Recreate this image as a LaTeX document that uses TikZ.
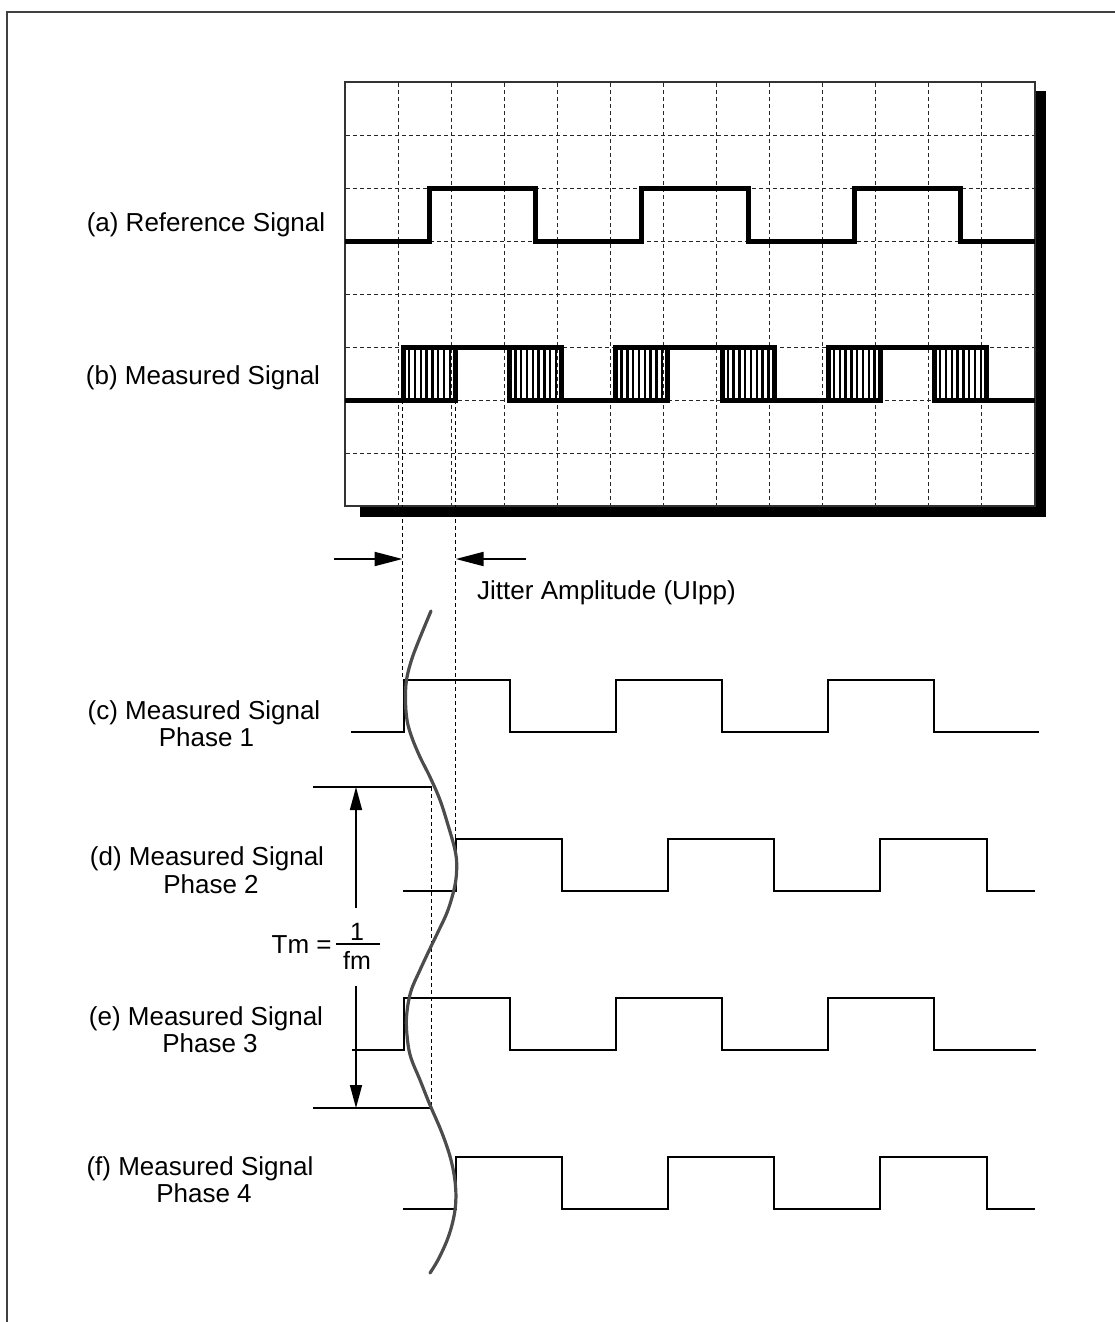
\documentclass[tikz,border=0pt]{standalone}
\usepackage{fontspec}
\setmainfont{Liberation Sans}
\usetikzlibrary{arrows.meta}
\begin{document}
\begin{tikzpicture}[x=1pt,y=-1pt,
  gridline/.style={draw=black!85, line width=1pt, dash pattern=on 4pt off 3pt},
  thicksig/.style={line width=5pt, line join=miter},
  hatchline/.style={line width=2.4pt},
  thinsig/.style={line width=2pt, line join=miter},
  jitdash/.style={line width=1.3pt, dash pattern=on 4pt off 3pt},
  lbl/.style={font=\fontsize{26}{28}\selectfont, inner sep=0pt, anchor=base},
  fraclbl/.style={font=\fontsize{25}{27}\selectfont, inner sep=0pt, anchor=base},
  wave/.style={line width=3.2pt, draw=black!70, line cap=round, line join=round},
  bigtip/.style={-{Triangle[length=28pt,width=14pt]}, line width=2pt},
  tmtip/.style={-{Triangle[length=23pt,width=12pt]}, line width=1.5pt},
  framel/.style={line width=1.5pt, draw=black!75}
]
\useasboundingbox (0,0) rectangle (1115,1322);
% outer frame (top and left visible)
\coordinate (fbl) at (7,1322);
\coordinate (ftl) at (7,12);
\coordinate (ftr) at (1115,12);
\draw[framel] (fbl) -- (ftl) -- (ftr);

% screen shadow and box
\fill[black] (360,91) rectangle (1046,517);
\draw[fill=white, line width=1.5pt, draw=black!80] (345,82) rectangle (1035,506);
% grid
\foreach \i in {1,...,12} \draw[gridline] ({345+\i*53.077},83) -- ({345+\i*53.077},505);
\foreach \j in {1,...,7} \draw[gridline] (346,{82+\j*53}) -- (1034,{82+\j*53});

% (a) reference signal
\draw[thicksig] (345,241) -- (429.5,241) -- (429.5,188) -- (535.7,188) -- (535.7,241)
  -- (641.9,241) -- (641.9,188) -- (748.1,188) -- (748.1,241)
  -- (854.3,241) -- (854.3,188) -- (960.5,188) -- (960.5,241) -- (1035,241);

% (b) measured signal with jittered edges
\foreach \k in {0,...,5}{
  \pgfmathsetmacro{\L}{403.5+106.2*\k}
  \foreach \m in {1,...,8} \draw[hatchline] ({\L+\m*5.78},347) -- ({\L+\m*5.78},400);
  \draw[thicksig] (\L,347) rectangle ({\L+52},400);
}
\draw[thicksig] (403.5,347) -- (561.7,347);
\draw[thicksig] (615.9,347) -- (774.1,347);
\draw[thicksig] (828.3,347) -- (986.5,347);
\draw[thicksig] (345,400) -- (455.5,400);
\draw[thicksig] (509.7,400) -- (667.9,400);
\draw[thicksig] (722.1,400) -- (880.3,400);
\draw[thicksig] (934.5,400) -- (1035,400);

% labels
\node[lbl] (la) at (206,231.7) {(a) Reference Signal};
\node[lbl] (lb) at (203,384) {(b) Measured Signal};
\node[lbl] (lc1) at (204,719.3) {(c) Measured Signal};
\node[lbl] (lc2) at (206.5,746.7) {Phase 1};
\node[lbl] (ld1) at (207,865.5) {(d) Measured Signal};
\node[lbl] (ld2) at (211,893.3) {Phase 2};
\node[lbl] (le1) at (206,1025) {(e) Measured Signal};
\node[lbl] (le2) at (210,1052) {Phase 3};
\node[lbl] (lf1) at (200,1175) {(f) Measured Signal};
\node[lbl] (lf2) at (204,1202) {Phase 4};

% jitter dashed guides
\coordinate (d1a) at (402.5,400); \coordinate (d1b) at (402.5,680);
\coordinate (d2a) at (455.7,400); \coordinate (d2b) at (455.7,839);
\coordinate (d3a) at (431.5,787); \coordinate (d3b) at (431.5,1108);
\draw[jitdash] (d1a) -- (d1b);
\draw[jitdash] (d2a) -- (d2b);
\draw[jitdash] (d3a) -- (d3b);

% jitter amplitude arrows
\coordinate (ja1) at (334,559); \coordinate (ja2) at (402.5,559);
\coordinate (jb1) at (526,559); \coordinate (jb2) at (455.7,559);
\draw[bigtip] (ja1) -- (ja2);
\draw[bigtip] (jb1) -- (jb2);
\node[lbl, anchor=base west] (jl) at (477,599) {Jitter Amplitude (UIpp)};

% measured signal phases
\draw[thinsig] (351,732) -- (403.5,732) -- (403.5,680) -- (509.7,680) -- (509.7,732)
  -- (615.9,732) -- (615.9,680) -- (722.1,680) -- (722.1,732)
  -- (828.3,732) -- (828.3,680) -- (933.5,680) -- (933.5,732) -- (1039,732);
\draw[thinsig] (403,891) -- (455.5,891) -- (455.5,839) -- (561.7,839) -- (561.7,891)
  -- (667.9,891) -- (667.9,839) -- (774.1,839) -- (774.1,891)
  -- (880.3,891) -- (880.3,839) -- (986.5,839) -- (986.5,891) -- (1035,891);
\draw[thinsig] (352,1050) -- (403.5,1050) -- (403.5,998) -- (509.7,998) -- (509.7,1050)
  -- (615.9,1050) -- (615.9,998) -- (722.1,998) -- (722.1,1050)
  -- (828.3,1050) -- (828.3,998) -- (933.5,998) -- (933.5,1050) -- (1036,1050);
\draw[thinsig] (403,1209) -- (455.5,1209) -- (455.5,1157) -- (561.7,1157) -- (561.7,1209)
  -- (667.9,1209) -- (667.9,1157) -- (774.1,1157) -- (774.1,1209)
  -- (880.3,1209) -- (880.3,1157) -- (986.5,1157) -- (986.5,1209) -- (1035,1209);

% Tm period markers
\coordinate (tl1) at (313,787); \coordinate (tr1) at (431.5,787);
\coordinate (tl2) at (313,1108); \coordinate (tr2) at (431.5,1108);
\draw[line width=1.5pt] (tl1) -- (tr1);
\draw[line width=1.5pt] (tl2) -- (tr2);
\coordinate (ta0) at (356,908); \coordinate (ta1) at (356,787);
\coordinate (tb0) at (356,986); \coordinate (tb1) at (356,1108);
\draw[tmtip] (ta0) -- (ta1);
\draw[tmtip] (tb0) -- (tb1);
\node[lbl, anchor=base west] (tm) at (271.5,953.3) {Tm =};
\coordinate (fb1) at (336,944); \coordinate (fb2) at (380,944);
\draw[line width=1.3pt] (fb1) -- (fb2);
\node[fraclbl] (fnum) at (357,940) {1};
\node[fraclbl] (fden) at (357,969) {fm};

% jitter modulation curve
\draw[wave] plot[smooth, tension=0.6] coordinates {
 (431,611) (419,640) (411.5,660) (406.5,680) (405.5,700) (407,720) (411.7,737)
 (420,757) (430,777) (440,800) (448,825) (455,850) (456.7,866) (455,885)
 (448,910) (438,932) (431.7,945) (420,970) (410.7,992) (406.5,1017) (407.5,1040)
 (411,1058) (420,1080) (430,1105) (442,1133) (451,1160) (455.5,1186) (455,1210)
 (449,1235) (439,1258) (430,1273)};
\end{tikzpicture}
\end{document}
